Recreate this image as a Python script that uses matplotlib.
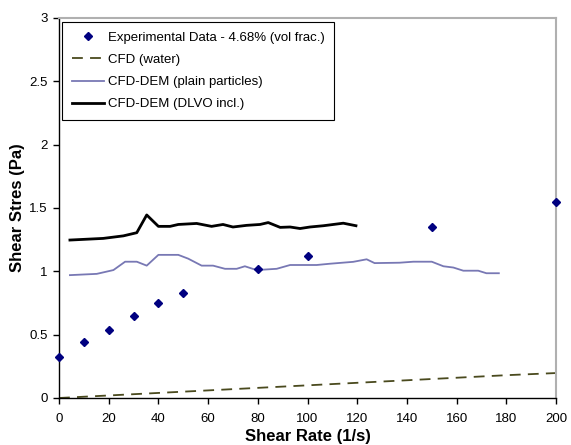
import matplotlib
matplotlib.use("Agg")
import matplotlib.pyplot as plt

plt.rcParams['font.family'] = ['Liberation Sans', 'DejaVu Sans']

# Experimental data
exp_rate = [0, 10, 20, 30, 40, 50, 80, 100, 150, 200]
exp_stress = [0.32, 0.44, 0.54, 0.65, 0.75, 0.83, 1.02, 1.12, 1.35, 1.55]

# CFD (water)
cfd_rate = [0, 20, 40, 60, 80, 100, 120, 140, 160, 180, 200]
cfd_stress = [0.0, 0.02, 0.04, 0.06, 0.08, 0.10, 0.12, 0.14, 0.16, 0.18, 0.197]

# CFD-DEM (plain particles)
plain_rate = [4.4, 15.2, 21.9, 26.6, 31.3, 35.3, 40.0, 48.0, 52.0, 57.4, 62.0, 66.8,
              71.5, 74.8, 79.5, 87.6, 93.0, 103.7, 109.0, 118.4, 123.8, 127.0, 137.0,
              142.6, 150.0, 154.7, 158.7, 162.7, 168.7, 172.0, 177.0]
plain_stress = [0.97, 0.98, 1.01, 1.076, 1.076, 1.045, 1.13, 1.13, 1.10, 1.045, 1.045, 1.02,
                1.02, 1.04, 1.01, 1.02, 1.05, 1.05, 1.06, 1.075, 1.095, 1.065, 1.068,
                1.076, 1.076, 1.04, 1.03, 1.005, 1.005, 0.985, 0.985]

# CFD-DEM (DLVO incl.)
dlvo_rate = [4.4, 17.8, 25.9, 31.3, 35.3, 40.0, 44.7, 48.0, 55.4, 61.4, 66.0, 70.0,
             75.5, 80.9, 84.2, 89.0, 93.0, 97.0, 101.0, 106.4, 114.4, 119.5]
dlvo_stress = [1.247, 1.26, 1.28, 1.305, 1.445, 1.355, 1.355, 1.37, 1.378, 1.355, 1.37, 1.35,
               1.363, 1.37, 1.385, 1.347, 1.35, 1.338, 1.35, 1.36, 1.38, 1.36]

x_ticks = [0, 20, 40, 60, 80, 100, 120, 140, 160, 180, 200]
y_ticks = [0, 0.5, 1, 1.5, 2, 2.5, 3]
y_tick_labels = ['0', '0.5', '1', '1.5', '2', '2.5', '3']

fig = plt.figure(figsize=(5.71, 4.45), dpi=100)
ax = fig.add_axes([59/571, 1-398/445, (556-59)/571, (398-18)/445])

ax.plot(exp_rate, exp_stress, linestyle='none', marker='D', markersize=4.3,
        color='#000080', label='Experimental Data - 4.68% (vol frac.)', clip_on=False, zorder=5)
ax.plot(cfd_rate, cfd_stress, linestyle=(0, (6, 4)), color='#4a4a1e', linewidth=1.3,
        label='CFD (water)')
ax.plot(plain_rate, plain_stress, color='#7878b4', linewidth=1.3,
        label='CFD-DEM (plain particles)')
ax.plot(dlvo_rate, dlvo_stress, color='black', linewidth=2.0,
        label='CFD-DEM (DLVO incl.)')

ax.set_xlim(0, 200)
ax.set_ylim(0, 3)
ax.set_xticks(x_ticks)
ax.set_yticks(y_ticks)
ax.set_yticklabels(y_tick_labels)
ax.tick_params(direction='out', length=4, width=1, labelsize=9.5)
ax.tick_params(axis='x', pad=7)
ax.tick_params(axis='y', pad=4)

for s in ['left', 'bottom']:
    ax.spines[s].set_color('black')
    ax.spines[s].set_linewidth(1)
for s in ['top', 'right']:
    ax.spines[s].set_color('#b0b0b0')
    ax.spines[s].set_linewidth(1.5)

ax.set_xlabel('Shear Rate (1/s)', fontsize=12, fontweight='bold', labelpad=3)
ax.set_ylabel('Shear Stres (Pa)', fontsize=12, fontweight='bold', labelpad=3)

leg = ax.legend(loc='upper left', bbox_to_anchor=(0.006, 0.99), fontsize=9.5,
                frameon=True, fancybox=False, edgecolor='black', framealpha=1,
                handlelength=2.4, handletextpad=0.3, borderpad=0.75, labelspacing=0.75,
                borderaxespad=0)
leg.get_frame().set_linewidth(0.8)

fig.savefig('out.png', dpi=100)
